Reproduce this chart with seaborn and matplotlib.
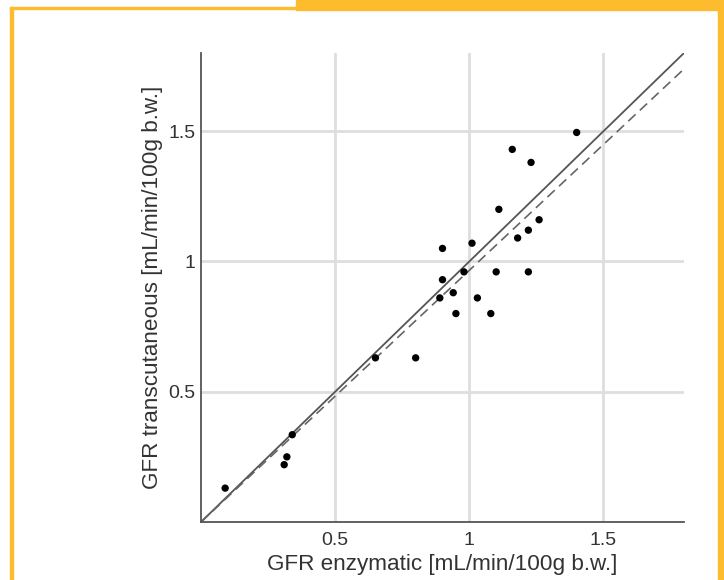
import numpy as np
import pandas as pd
import seaborn as sns
import matplotlib.pyplot as plt
from matplotlib.patches import Rectangle

# GFR values (mL/min/100g b.w.)
gfr_enzymatic = [1.40, 1.16, 1.23, 1.11, 1.26, 1.22, 1.18, 1.01, 0.90, 0.98,
                 1.10, 1.22, 0.90, 0.94, 0.89, 1.03, 0.95, 1.08, 0.65, 0.80,
                 0.34, 0.32, 0.31, 0.09]
gfr_transcutaneous = [1.495, 1.43, 1.38, 1.20, 1.16, 1.12, 1.09, 1.07, 1.05, 0.96,
                      0.96, 0.96, 0.93, 0.88, 0.86, 0.86, 0.80, 0.80, 0.63, 0.63,
                      0.335, 0.25, 0.22, 0.13]

# dashed regression line (slope / intercept)
reg_slope = 0.966
reg_intercept = 0.0

axis_max = 1.8
tick_values = [0.5, 1, 1.5]
tick_labels = ['0.5', '1', '1.5']

df = pd.DataFrame({'enz': gfr_enzymatic, 'tc': gfr_transcutaneous})

sns.set_style('white')
plt.rcParams['font.family'] = ['Liberation Sans', 'DejaVu Sans']

fig = plt.figure(figsize=(7.24, 5.8), dpi=100)
ax = fig.add_axes([201 / 724, 1 - 522 / 580, 483 / 724, 469 / 580])

line_x = np.array([0, axis_max])
ax.plot(line_x, line_x, color='#555555', lw=1.3, zorder=2)
ax.plot(line_x, reg_intercept + reg_slope * line_x, color='#666666', lw=1.2,
        dashes=(6, 3.5), zorder=2)

sns.scatterplot(data=df, x='enz', y='tc', ax=ax, color='black', s=28,
                edgecolor='none', zorder=3)

ax.set_xlim(0, axis_max)
ax.set_ylim(0, axis_max)
ax.set_xticks(tick_values)
ax.set_xticklabels(tick_labels)
ax.set_yticks(tick_values)
ax.set_yticklabels(tick_labels)
ax.grid(True, color='#dedede', linestyle='-', linewidth=2.0, zorder=0)
ax.set_axisbelow(True)

for side in ['top', 'right']:
    ax.spines[side].set_visible(False)
for side in ['left', 'bottom']:
    ax.spines[side].set_color('#555555')
    ax.spines[side].set_linewidth(1.3)

ax.tick_params(direction='in', length=4, width=1, color='#555555',
               labelsize=14, labelcolor='#333333')
ax.tick_params(axis='x', pad=7)
ax.tick_params(axis='y', pad=4)

ax.set_xlabel('GFR enzymatic [mL/min/100g b.w.]', fontsize=16.2,
              color='#333333', labelpad=4)
ax.set_ylabel('GFR transcutaneous [mL/min/100g b.w.]', fontsize=16.2,
              color='#333333', labelpad=4)

# orange frame around the panel
frame_color = '#FDBB2E'
fig.patches.append(Rectangle((10 / 724, 0), 3 / 724, 1 - 7 / 580,
                             transform=fig.transFigure, color=frame_color))
fig.patches.append(Rectangle((10 / 724, 1 - 9 / 580), 286 / 724, 2 / 580,
                             transform=fig.transFigure, color=frame_color))
fig.patches.append(Rectangle((296 / 724, 1 - 10 / 580), 428 / 724, 10 / 580,
                             transform=fig.transFigure, color=frame_color))
fig.patches.append(Rectangle((718 / 724, 0), 6 / 724, 1,
                             transform=fig.transFigure, color=frame_color))

fig.savefig('out.png', dpi=100)
